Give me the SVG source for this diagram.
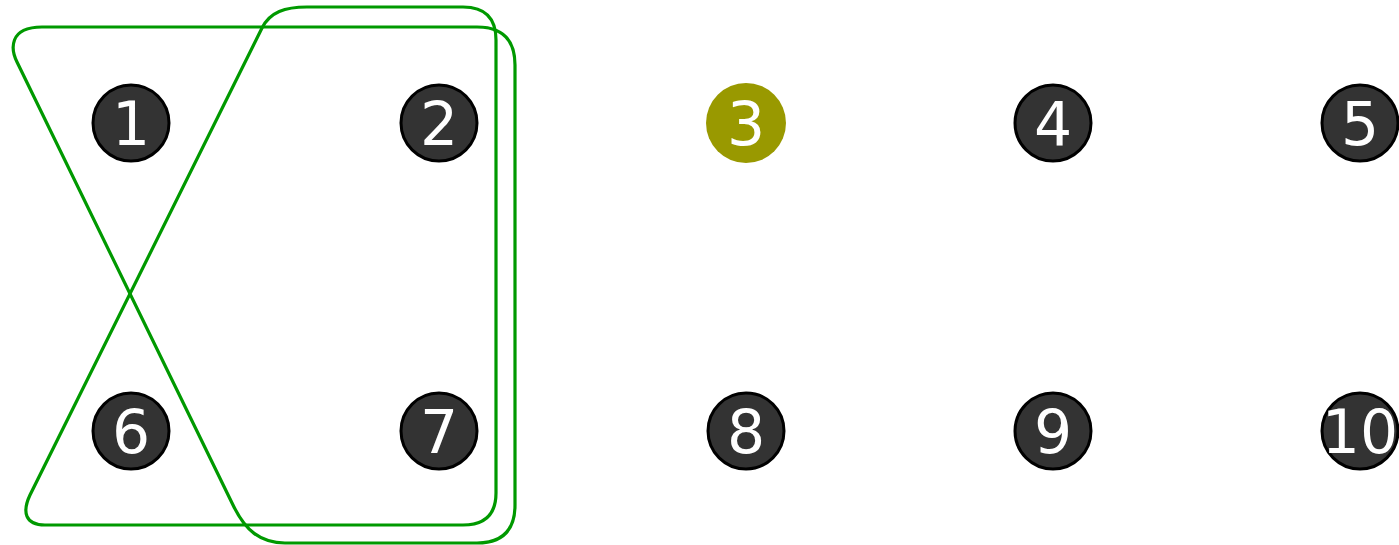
<svg xmlns="http://www.w3.org/2000/svg" width="1399" height="545" viewBox="0 0 1399 545">
<style>
.n{fill:#333333;stroke:#000000;stroke-width:3}
.h{fill:#999900}
.t{font-family:"DejaVu Sans",sans-serif;font-size:60px;fill:#ffffff;text-anchor:middle}
.g{fill:none;stroke:#009900;stroke-width:3.2;stroke-linejoin:round}
</style>
<rect width="1399" height="545" fill="#ffffff"/>
<g id="connectors">
<path class="g" d="M 42,27 L 477,27 Q 515,27 515,65 L 515,505 Q 515,543 477,543 L 285,543 C 260,543 245,530 233,505 L 17,62 C 11,50 8,27 42,27 Z"/>
<path class="g" d="M 307,7 L 463,7 Q 496,7 496,40 L 496,493 Q 496,525 463,525 L 45,525 C 25,525 22,512 30,495 L 262,28 C 270,12 285,7 307,7 Z"/>
</g>
<g id="node1"><circle class="n" cx="131" cy="123" r="38"/><text class="t" x="131" y="145">1</text></g>
<g id="node2"><circle class="n" cx="439" cy="123" r="38"/><text class="t" x="439" y="145">2</text></g>
<g id="node3"><circle class="h" cx="746" cy="123" r="40"/><text class="t" x="746" y="145">3</text></g>
<g id="node4"><circle class="n" cx="1053" cy="123" r="38"/><text class="t" x="1053" y="145">4</text></g>
<g id="node5"><circle class="n" cx="1360" cy="123" r="38"/><text class="t" x="1360" y="145">5</text></g>
<g id="node6"><circle class="n" cx="131" cy="431" r="38"/><text class="t" x="131" y="453">6</text></g>
<g id="node7"><circle class="n" cx="439" cy="431" r="38"/><text class="t" x="439" y="453">7</text></g>
<g id="node8"><circle class="n" cx="746" cy="431" r="38"/><text class="t" x="746" y="453">8</text></g>
<g id="node9"><circle class="n" cx="1053" cy="431" r="38"/><text class="t" x="1053" y="453">9</text></g>
<g id="node10"><circle class="n" cx="1360" cy="431" r="38"/><text class="t" x="1360" y="453">10</text></g>
</svg>
